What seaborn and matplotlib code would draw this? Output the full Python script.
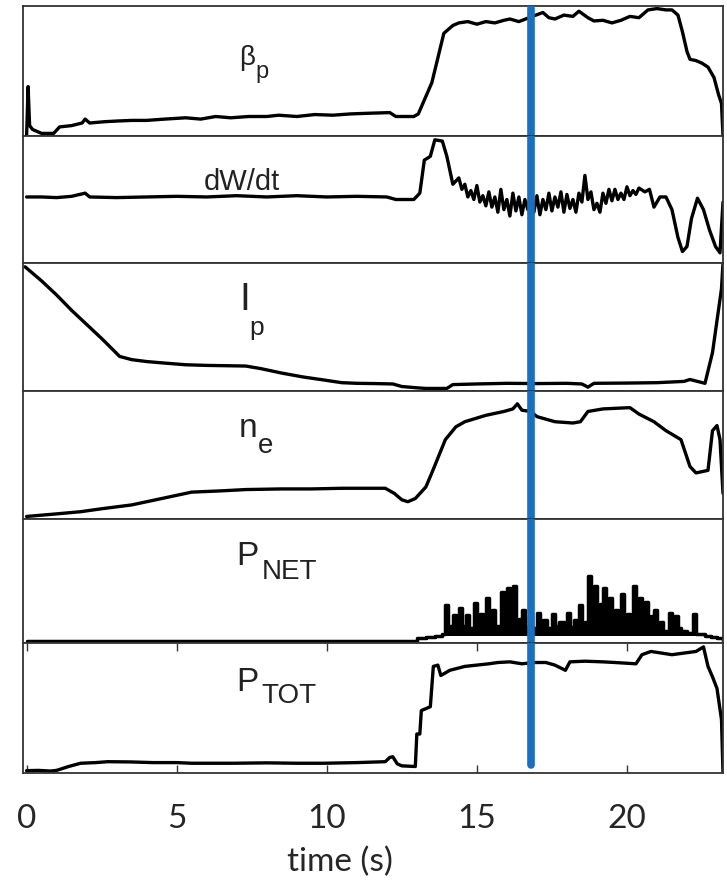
import pandas as pd
import matplotlib
matplotlib.use("Agg")
import matplotlib.pyplot as plt
import matplotlib.transforms as mtransforms
import seaborn as sns

# traces: (time in s, value as fraction of the panel range)
beta_p = [(0.0, 0.0), (0.05, 0.38), (0.1, 0.08), (0.2, 0.05), (0.5, 0.02), (0.9, 0.02),
          (1.1, 0.07), (1.5, 0.08), (1.85, 0.10), (1.95, 0.13), (2.1, 0.10), (2.6, 0.11),
          (3.0, 0.115), (3.5, 0.12), (4.0, 0.12), (4.6, 0.13), (5.3, 0.14), (5.8, 0.13),
          (6.3, 0.15), (6.8, 0.14), (7.4, 0.15), (8.0, 0.15), (8.4, 0.16), (9.0, 0.15),
          (9.6, 0.165), (10.2, 0.16), (10.8, 0.17), (11.4, 0.175), (12.1, 0.18), (12.3, 0.15),
          (12.9, 0.15), (13.05, 0.17), (13.5, 0.41), (13.9, 0.79), (14.2, 0.85), (14.4, 0.87),
          (14.7, 0.88), (15.0, 0.86), (15.3, 0.88), (15.6, 0.87), (15.9, 0.89), (16.1, 0.90),
          (16.4, 0.88), (16.85, 0.92), (17.2, 0.95), (17.4, 0.91), (17.6, 0.90), (17.9, 0.93),
          (18.2, 0.92), (18.4, 0.96), (18.7, 0.91), (18.9, 0.885), (19.2, 0.89), (19.5, 0.87),
          (19.8, 0.89), (20.1, 0.92), (20.4, 0.91), (20.7, 0.97), (21.0, 0.98), (21.3, 0.97),
          (21.5, 0.97), (21.7, 0.93), (21.85, 0.80), (22.0, 0.65), (22.1, 0.59), (22.3, 0.58),
          (22.5, 0.56), (22.7, 0.53), (22.9, 0.45), (23.05, 0.32), (23.15, 0.25), (23.2, 0.0)]

dw_dt = [(0.0, 0.52), (0.5, 0.52), (1.0, 0.515), (1.5, 0.525), (1.95, 0.55), (2.1, 0.52),
         (3.0, 0.515), (4.0, 0.52), (5.0, 0.525), (6.0, 0.52), (7.0, 0.53), (8.0, 0.52),
         (9.0, 0.53), (10.0, 0.52), (11.0, 0.525), (12.0, 0.52), (12.3, 0.50), (12.9, 0.50),
         (13.1, 0.55), (13.25, 0.81), (13.45, 0.84), (13.6, 0.97), (13.85, 0.96), (14.0, 0.84),
         (14.2, 0.62), (14.4, 0.67), (14.5, 0.58), (14.6, 0.62), (14.7, 0.52), (14.8, 0.57),
         (14.9, 0.50), (15.0, 0.61), (15.1, 0.48), (15.2, 0.53), (15.3, 0.45), (15.4, 0.56),
         (15.5, 0.44), (15.6, 0.52), (15.7, 0.40), (15.8, 0.58), (15.9, 0.42), (16.0, 0.50),
         (16.1, 0.37), (16.2, 0.55), (16.3, 0.41), (16.4, 0.52), (16.5, 0.38), (16.6, 0.50),
         (16.7, 0.42), (16.8, 0.56), (16.9, 0.40), (17.0, 0.53), (17.1, 0.38), (17.2, 0.50),
         (17.3, 0.42), (17.4, 0.55), (17.5, 0.41), (17.6, 0.52), (17.7, 0.44), (17.8, 0.56),
         (17.9, 0.40), (18.0, 0.54), (18.1, 0.43), (18.2, 0.50), (18.3, 0.40), (18.4, 0.55),
         (18.5, 0.48), (18.6, 0.69), (18.7, 0.50), (18.8, 0.56), (18.9, 0.42), (19.0, 0.47),
         (19.1, 0.40), (19.2, 0.55), (19.3, 0.47), (19.4, 0.58), (19.5, 0.49), (19.6, 0.58),
         (19.7, 0.50), (19.8, 0.55), (19.9, 0.50), (20.0, 0.60), (20.1, 0.53), (20.2, 0.57),
         (20.3, 0.54), (20.4, 0.59), (20.6, 0.56), (20.75, 0.58), (20.9, 0.44), (21.1, 0.52),
         (21.3, 0.52), (21.5, 0.42), (21.7, 0.20), (21.85, 0.09), (22.0, 0.13), (22.15, 0.35),
         (22.35, 0.51), (22.55, 0.42), (22.75, 0.26), (22.95, 0.13), (23.1, 0.08), (23.2, 0.48)]

i_p = [(-0.05, 0.97), (0.5, 0.86), (1.0, 0.75), (1.5, 0.63), (2.0, 0.52), (2.5, 0.41),
       (3.1, 0.27), (3.5, 0.245), (4.0, 0.23), (4.5, 0.22), (5.3, 0.205), (6.0, 0.20),
       (7.3, 0.195), (7.8, 0.175), (8.5, 0.14), (9.2, 0.11), (9.9, 0.086), (10.5, 0.065),
       (11.0, 0.06), (11.6, 0.058), (12.2, 0.055), (12.5, 0.035), (13.0, 0.025), (13.3, 0.02),
       (14.0, 0.02), (14.2, 0.05), (15.0, 0.055), (16.0, 0.06), (17.0, 0.058), (18.0, 0.06),
       (18.5, 0.055), (18.7, 0.03), (18.9, 0.06), (20.0, 0.062), (21.0, 0.065), (21.9, 0.075),
       (22.1, 0.09), (22.6, 0.06), (22.85, 0.30), (23.0, 0.55), (23.15, 0.80), (23.2, 1.0)]

n_e = [(0.0, 0.02), (0.5, 0.03), (1.0, 0.04), (1.8, 0.057), (2.5, 0.08), (3.5, 0.11),
       (4.3, 0.15), (5.1, 0.19), (5.5, 0.21), (6.5, 0.22), (7.3, 0.23), (8.5, 0.235),
       (9.5, 0.235), (10.5, 0.24), (11.95, 0.24), (12.25, 0.20), (12.5, 0.15), (12.7, 0.135),
       (12.95, 0.16), (13.3, 0.25), (13.5, 0.36), (13.95, 0.62), (14.3, 0.72), (14.6, 0.76),
       (15.3, 0.81), (15.9, 0.84), (16.2, 0.86), (16.35, 0.90), (16.5, 0.85), (16.8, 0.84),
       (17.0, 0.80), (17.6, 0.76), (18.2, 0.75), (18.45, 0.76), (18.7, 0.84), (19.2, 0.86),
       (20.1, 0.87), (20.4, 0.82), (20.9, 0.76), (21.3, 0.69), (21.8, 0.62), (22.1, 0.41),
       (22.3, 0.36), (22.7, 0.38), (22.85, 0.69), (23.0, 0.73), (23.1, 0.62), (23.2, 0.20)]

p_net = [(0.0, 0.0), (12.8, 0.0), (13.0, 0.02), (13.3, 0.03), (13.6, 0.04), (13.85, 0.05),
         (13.95, 0.29), (14.05, 0.12), (14.2, 0.21), (14.3, 0.10), (14.4, 0.27), (14.5, 0.12),
         (14.65, 0.21), (14.75, 0.10), (14.9, 0.31), (15.0, 0.13), (15.1, 0.22), (15.2, 0.11),
         (15.3, 0.35), (15.4, 0.14), (15.5, 0.25), (15.6, 0.12), (15.8, 0.40), (15.9, 0.15),
         (16.0, 0.43), (16.1, 0.14), (16.2, 0.45), (16.3, 0.10), (16.4, 0.18), (16.5, 0.25),
         (16.6, 0.11), (16.75, 0.20), (16.85, 0.10), (17.0, 0.23), (17.1, 0.12), (17.2, 0.17),
         (17.35, 0.10), (17.5, 0.22), (17.6, 0.12), (17.75, 0.15), (17.9, 0.10), (18.0, 0.23),
         (18.1, 0.11), (18.25, 0.17), (18.4, 0.29), (18.5, 0.11), (18.6, 0.15), (18.7, 0.53),
         (18.8, 0.20), (18.9, 0.45), (19.0, 0.13), (19.1, 0.30), (19.2, 0.43), (19.3, 0.15),
         (19.4, 0.35), (19.5, 0.12), (19.6, 0.25), (19.7, 0.10), (19.8, 0.38), (19.9, 0.13),
         (20.0, 0.22), (20.1, 0.12), (20.2, 0.45), (20.3, 0.15), (20.4, 0.35), (20.5, 0.12),
         (20.6, 0.32), (20.7, 0.10), (20.8, 0.20), (20.9, 0.25), (21.0, 0.09), (21.1, 0.15),
         (21.2, 0.08), (21.4, 0.23), (21.5, 0.09), (21.6, 0.20), (21.7, 0.10), (21.8, 0.08),
         (22.0, 0.06), (22.2, 0.22), (22.3, 0.05), (22.4, 0.05), (22.6, 0.04), (22.8, 0.03),
         (23.0, 0.02), (23.2, 0.0)]

p_tot = [(0.0, 0.018), (0.4, 0.02), (0.8, 0.015), (1.0, 0.02), (1.4, 0.05), (1.8, 0.075),
         (2.3, 0.08), (2.7, 0.087), (3.5, 0.085), (4.2, 0.08), (5.0, 0.08), (5.5, 0.075),
         (6.9, 0.075), (8.0, 0.078), (9.0, 0.075), (9.9, 0.075), (11.0, 0.08), (11.95, 0.087),
         (12.1, 0.12), (12.2, 0.125), (12.35, 0.07), (12.5, 0.055), (12.95, 0.05), (13.0, 0.30),
         (13.1, 0.30), (13.15, 0.48), (13.45, 0.51), (13.55, 0.82), (13.7, 0.83), (13.8, 0.75),
         (14.1, 0.79), (14.6, 0.82), (15.0, 0.83), (15.4, 0.84), (15.7, 0.85), (16.1, 0.855),
         (16.5, 0.84), (16.9, 0.85), (17.3, 0.85), (17.6, 0.83), (17.95, 0.79), (18.1, 0.855),
         (18.6, 0.86), (19.2, 0.855), (19.6, 0.85), (20.3, 0.84), (20.5, 0.91), (20.8, 0.935),
         (21.5, 0.91), (22.3, 0.935), (22.55, 0.97), (22.7, 0.82), (22.85, 0.74), (23.0, 0.65),
         (23.15, 0.41), (23.2, 0.0)]

time_ticks = [0, 5, 10, 15, 20]
marker_time = 16.8

# label pieces: (text, left x in s, y in axes fraction, font size)
panel_configs = [
    {"trace": beta_p, "ratio": 130, "labels": [("β", 7.08, 0.60, 20), ("p", 7.62, 0.49, 17)]},
    {"trace": dw_dt, "ratio": 127, "labels": [("dW/dt", 5.9, 0.64, 21)]},
    {"trace": i_p, "ratio": 128, "labels": [("I", 7.10, 0.71, 28), ("p", 7.42, 0.49, 19)]},
    {"trace": n_e, "ratio": 128, "labels": [("n", 7.05, 0.71, 24), ("e", 7.72, 0.57, 20)]},
    {"trace": p_net, "ratio": 124, "labels": [("P", 6.98, 0.70, 24), ("NET", 7.82, 0.57, 20)],
     "fill": True},
    {"trace": p_tot, "ratio": 130, "labels": [("P", 6.98, 0.70, 24), ("TOT", 7.82, 0.59, 20)]},
]

sns.set_style("white")
plt.rcParams['font.family'] = ['Liberation Sans', 'DejaVu Sans']

fig, axes = plt.subplots(nrows=len(panel_configs), figsize=(7.27, 8.89), dpi=100, sharex=True,
                         gridspec_kw={"height_ratios": [c["ratio"] for c in panel_configs],
                                      "hspace": 0})
fig.subplots_adjust(left=23 / 727, right=723 / 727, top=1 - 6 / 889, bottom=1 - 773 / 889)

for idx, (ax, cfg) in enumerate(zip(axes, panel_configs)):
    df = pd.DataFrame(cfg["trace"], columns=["time", "value"])
    if cfg.get("fill"):
        ax.fill_between(df["time"], 0.035, df["value"], where=df["value"] > 0.035,
                        step="post", color="black", lw=0)
        sns.lineplot(data=df, x="time", y="value", ax=ax, color="black", lw=2.5,
                     estimator=None, sort=False, drawstyle="steps-post")
        ax.set_ylim(-0.02, 1.0)
    else:
        sns.lineplot(data=df, x="time", y="value", ax=ax, color="black", lw=2.4,
                     estimator=None, sort=False)
        ax.set_ylim(0, 1.0)

    ymin = 0.06 if idx == len(panel_configs) - 1 else 0
    ymax = 0.985 if idx == 0 else 1
    ax.axvline(marker_time, ymin=ymin, ymax=ymax, color="#1a6fbf", lw=5.5, zorder=5)

    trans = mtransforms.blended_transform_factory(ax.transData, ax.transAxes)
    for text, x, y, size in cfg["labels"]:
        ax.text(x, y, text, transform=trans, ha="left", va="center",
                fontsize=size, color="#222222")

    ax.set_yticks([])
    ax.set_ylabel("")
    ax.set_xlabel("")
    for spine in ax.spines.values():
        spine.set_color("#333333")
        spine.set_linewidth(1.3)
    ax.tick_params(bottom=False, labelbottom=False)

ax = axes[-1]
ax.set_xlim(-0.12, 23.2)
ax.set_xticks(time_ticks)
ax.tick_params(bottom=True, top=True, labelbottom=True, direction="in", length=6,
               width=1, color="#333333", pad=22, labelsize=24)
for lbl in ax.get_xticklabels():
    lbl.set_fontfamily("Lato")
ax.set_xlabel("time (s)", fontsize=24, fontfamily="Lato")
ax.xaxis.set_label_coords((340 - 23) / 700, -0.57)

plt.savefig("out.png", dpi=100)
plt.close()
